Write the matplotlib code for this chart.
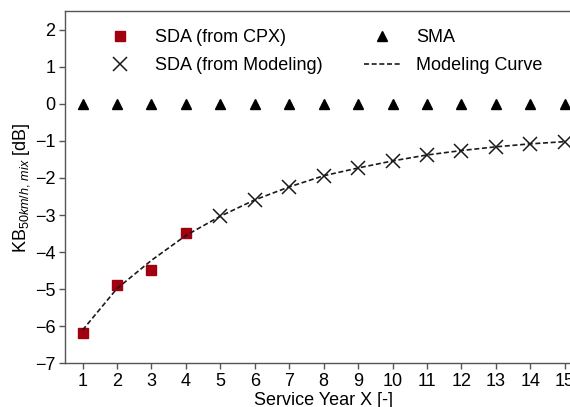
import matplotlib
matplotlib.use("Agg")
import matplotlib.pyplot as plt
from matplotlib.lines import Line2D

plt.rcParams['font.family'] = ['Liberation Sans', 'DejaVu Sans']
plt.rcParams['mathtext.fontset'] = 'custom'
plt.rcParams['mathtext.rm'] = 'Liberation Sans'
plt.rcParams['mathtext.it'] = 'Liberation Sans:italic'
plt.rcParams['mathtext.bf'] = 'Liberation Sans:bold'

# Data
cpx_years = [1, 2, 3, 4]
cpx_values = [-6.17, -4.88, -4.48, -3.48]
model_years = [5, 6, 7, 8, 9, 10, 11, 12, 13, 14, 15]
model_values = [-3.03, -2.59, -2.24, -1.94, -1.73, -1.54, -1.38, -1.26, -1.16, -1.08, -1.02]
sma_years = list(range(1, 16))
sma_values = [0] * 15
curve_years = list(range(1, 16))
curve_values = [-6.1, -4.98, -4.22, -3.55, -3.03, -2.59, -2.24, -1.94, -1.73, -1.54, -1.38, -1.26, -1.16, -1.08, -1.02]
xticks = list(range(1, 16))
yticks = [-7, -6, -5, -4, -3, -2, -1, 0, 1, 2]

FS = 13

fig = plt.figure(figsize=(5.7, 4.07), dpi=100)
ax = fig.add_axes([0.1146, 0.1069, 0.9065, 0.866])

ax.plot(cpx_years, cpx_values, linestyle='none', marker='s', markersize=7.5,
        color='#a00010', markeredgecolor='#a00010', zorder=2)
ax.plot(model_years, model_values, linestyle='none', marker='x', markersize=10,
        markeredgewidth=1.1, color='#1a1a1a', zorder=3)
ax.plot(sma_years, sma_values, linestyle='none', marker='^', markersize=7.5,
        color='black', zorder=3)
ax.plot(curve_years, curve_values, linestyle=(0, (3, 1.6)), linewidth=1.2,
        color='#1a1a1a', zorder=4)

ax.set_xlim(0.5, 15.5)
ax.set_ylim(-7, 2.5)
ax.set_xticks(xticks)
ax.set_yticks(yticks)
ax.set_yticklabels(['\u22127', '\u22126', '\u22125', '\u22124', '\u22123', '\u22122', '\u22121', '0', '1', '2'])
ax.tick_params(axis='both', labelsize=FS, color='#555555', length=4, width=1, direction='out', pad=3)
for s in ax.spines.values():
    s.set_color('#555555')
    s.set_linewidth(1)

ax.set_xlabel('Service Year X [-]', fontsize=FS, labelpad=1)
ax.set_ylabel(r'KB$_{50km/h,\,mix}$ [dB]', fontsize=FS, labelpad=2)

handles = [
    Line2D([], [], linestyle='none', marker='s', markersize=7.5, color='#a00010'),
    Line2D([], [], linestyle='none', marker='x', markersize=10, markeredgewidth=1.1, color='#1a1a1a'),
    Line2D([], [], linestyle='none', marker='^', markersize=7.5, color='black'),
    Line2D([], [], linestyle=(0, (3, 1.6)), linewidth=1.2, color='#1a1a1a'),
]
labels = ['SDA (from CPX)', 'SDA (from Modeling)', 'SMA', 'Modeling Curve']
ax.legend(handles, labels, ncol=2, loc='upper left', bbox_to_anchor=(0.04, 0.995),
          frameon=False, fontsize=FS, handlelength=2.0, handletextpad=0.9,
          columnspacing=2.3, labelspacing=0.6)

fig.savefig('out.png', dpi=100)
